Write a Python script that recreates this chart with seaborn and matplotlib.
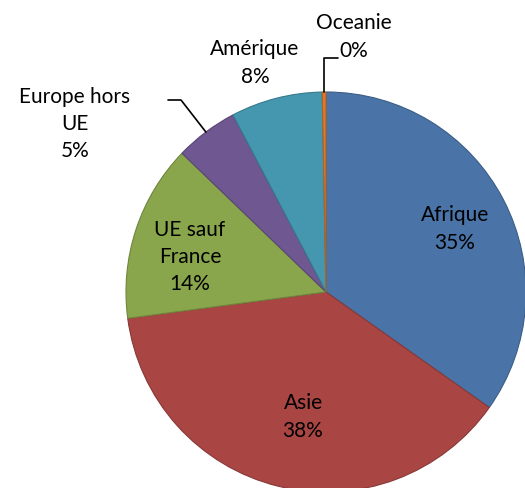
import seaborn as sns
import matplotlib.pyplot as plt
import numpy as np

sns.set_style("white")
plt.rcParams['font.family'] = ['Lato', 'DejaVu Sans']

regions = ['Afrique', 'Asie', 'UE sauf\nFrance', 'Europe hors\nUE', 'Amérique', 'Oceanie']
parts = [34.8, 38.1, 14.3, 5.1, 7.4, 0.3]
pct_text = ['35%', '38%', '14%', '5%', '8%', '0%']
couleurs = ['#4A74A8', '#A94644', '#8AA64C', '#6F5791', '#4497AF', '#D97A2E']
bords = ['#3B5D86', '#873836', '#6E853D', '#594574', '#36798C', '#AE6225']

# position des etiquettes (fraction du rayon, depuis le centre)
pos_etiq = [(0.645, 0.315), (-0.115, -0.625), (-0.68, 0.175),
            (-1.255, 0.84), (-0.355, 1.145), (0.14, 1.275)]

fig = plt.figure(figsize=(5.25, 4.88), dpi=100)
ax = fig.add_axes([126/525, -4/488, 400/525, 400/488])

wedges, _ = ax.pie(parts, colors=couleurs, startangle=90, counterclock=False,
                   radius=1, wedgeprops={'linewidth': 0.8})
for w, b in zip(wedges, bords):
    w.set_edgecolor(b)

for nom, pc, (x, y) in zip(regions, pct_text, pos_etiq):
    ax.text(x, y, nom + '\n' + pc, ha='center', va='center', fontsize=15,
            linespacing=1.45, color='black', clip_on=False)

# lignes de rappel
def milieu(w):
    a = np.deg2rad((w.theta1 + w.theta2) / 2)
    return np.cos(a), np.sin(a)

ex, ey = milieu(wedges[3])
ax.plot([-0.79, -0.725, ex], [0.96, 0.96, ey], color='black', lw=1.2, clip_on=False)
ox, oy = milieu(wedges[5])
ax.plot([ox, ox, 0.06], [oy, 1.17, 1.17], color='black', lw=1.2, clip_on=False)

ax.set_xlim(-1, 1)
ax.set_ylim(-1, 1)
ax.set_aspect('equal')
ax.axis('off')

fig.savefig('out.png', dpi=100)
